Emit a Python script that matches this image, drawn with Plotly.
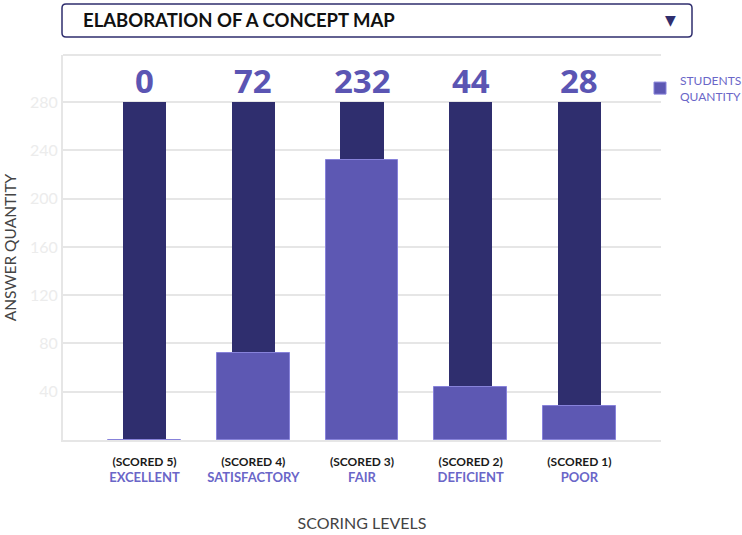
import plotly.graph_objects as go

# Scoring levels and answer counts
scores = ["(SCORED 5)", "(SCORED 4)", "(SCORED 3)", "(SCORED 2)", "(SCORED 1)"]
levels = ["EXCELLENT", "SATISFACTORY", "FAIR", "DEFICIENT", "POOR"]
students = [0, 72, 232, 44, 28]
capacity = [280, 280, 280, 280, 280]
y_ticks = [40, 80, 120, 160, 200, 240, 280]

DARK = "#2f2e6e"
LIGHT = "#5d58b3"
LABEL = "#5b55b3"
LEVEL = "#6a66c8"
GRID = "#e6e6e6"
FONT = "Lato"

x_idx = list(range(len(scores)))
tick_text = [
    f"<b><span style='color:#1a1a1a'>{s}</span></b><br>"
    f"<b><span style='color:{LEVEL};font-size:13px'>{l}</span></b>"
    for s, l in zip(scores, levels)
]

fig = go.Figure()
fig.add_trace(go.Bar(
    x=x_idx, y=capacity, width=0.40,
    marker=dict(color=DARK, line=dict(width=0)),
    showlegend=False, hoverinfo="skip",
))
fig.add_trace(go.Bar(
    x=x_idx, y=students, width=0.67,
    name="STUDENTS<br>QUANTITY",
    marker=dict(color=LIGHT, line=dict(color="#8782da", width=1)),
))

# Value labels above the bars
for i, v in enumerate(students):
    fig.add_annotation(
        x=i, y=capacity[i], yref="y", xref="x", text=f"<b>{v}</b>",
        showarrow=False, yanchor="bottom", yshift=-3,
        font=dict(family="Open Sans", size=33, color=LABEL, weight=800),
    )

# Top frame line of the plot area
fig.add_shape(type="line", xref="paper", yref="paper", x0=0, x1=1, y0=1, y1=1,
              line=dict(color=GRID, width=2))

# Header box with dropdown arrow
W, H = 742, 535
L, R, T, B = 63, 81, 55, 95
pw, ph = W - L - R, H - T - B


def px(xp):
    return (xp - L) / pw


def py(yp):
    return (H - B - yp) / ph


x0, x1, y0, y1, r = 62, 692, 4, 37, 4
path = (
    f"M {px(x0 + r)},{py(y0)} L {px(x1 - r)},{py(y0)} "
    f"Q {px(x1)},{py(y0)} {px(x1)},{py(y0 + r)} "
    f"L {px(x1)},{py(y1 - r)} Q {px(x1)},{py(y1)} {px(x1 - r)},{py(y1)} "
    f"L {px(x0 + r)},{py(y1)} Q {px(x0)},{py(y1)} {px(x0)},{py(y1 - r)} "
    f"L {px(x0)},{py(y0 + r)} Q {px(x0)},{py(y0)} {px(x0 + r)},{py(y0)} Z"
)
fig.add_shape(type="path", xref="paper", yref="paper", path=path,
              line=dict(color=DARK, width=1.5), fillcolor="white")
fig.add_annotation(
    xref="paper", yref="paper", x=px(81), y=py(20.5), xanchor="left", yanchor="middle",
    text="<b>ELABORATION OF A CONCEPT MAP</b>", showarrow=False,
    font=dict(family=FONT, size=18.5, color="#111111"),
)
fig.add_annotation(
    xref="paper", yref="paper", x=px(670), y=py(20.5), xanchor="center", yanchor="middle",
    text="▼", showarrow=False, font=dict(family="DejaVu Sans", size=14, color=DARK),
)

fig.update_layout(
    width=W, height=H,
    margin=dict(l=L, r=R, t=T, b=B, autoexpand=False),
    barmode="overlay",
    bargap=0,
    plot_bgcolor="white",
    paper_bgcolor="white",
    font=dict(family=FONT),
    legend=dict(
        xref="container", yref="container",
        x=640 / W, y=1 - 66 / H, xanchor="left", yanchor="top",
        font=dict(family=FONT, size=12, color=LEVEL),
        itemwidth=30, bgcolor="rgba(0,0,0,0)",
    ),
    xaxis=dict(
        range=[-0.75, 4.75],
        tickmode="array", tickvals=x_idx, ticktext=tick_text,
        tickfont=dict(family=FONT, size=12),
        ticklabelstandoff=10,
        showgrid=False, zeroline=False,
        showline=True, linecolor=GRID, linewidth=2,
        ticks="", ticklen=0,
        title=dict(text="SCORING LEVELS", standoff=34,
                   font=dict(family=FONT, size=16, color="#444444")),
    ),
    yaxis=dict(
        range=[0, 319],
        tickmode="array", tickvals=y_ticks,
        tickfont=dict(family=FONT, size=16, color="#ececec"),
        showgrid=True, gridcolor=GRID, gridwidth=2,
        zeroline=False,
        showline=True, linecolor=GRID, linewidth=2,
        ticks="",
        title=dict(text="ANSWER QUANTITY", standoff=10,
                   font=dict(family=FONT, size=15.5, color="#444444")),
    ),
)

fig.write_html("out.html")
